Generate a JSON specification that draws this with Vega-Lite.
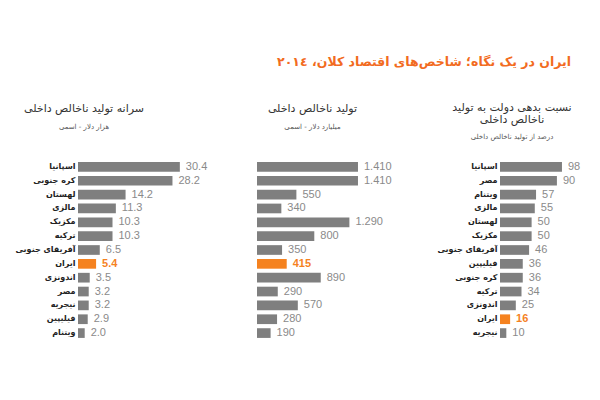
{
  "$schema": "https://vega.github.io/schema/vega-lite/v6.json",
  "background": "white",
  "padding": {"left": 5, "top": 56, "right": 5, "bottom": 5},
  "title": {
    "text": "ایران در یک نگاه؛ شاخص‌های اقتصاد کلان، ٢٠١٤",
    "anchor": "end",
    "color": "#f26b21",
    "fontSize": 12.5,
    "fontWeight": "bold",
    "font": "DejaVu Sans",
    "offset": 33,
    "dx": -15
  },
  "datasets": {
    "pc": [
      {"country": "اسپانیا", "value": 30.4},
      {"country": "کره جنوبی", "value": 28.2},
      {"country": "لهستان", "value": 14.2},
      {"country": "مالزی", "value": 11.3},
      {"country": "مکزیک", "value": 10.3},
      {"country": "ترکیه", "value": 10.3},
      {"country": "آفریقای جنوبی", "value": 6.5},
      {"country": "ایران", "value": 5.4},
      {"country": "اندونزی", "value": 3.5},
      {"country": "مصر", "value": 3.2},
      {"country": "نیجریه", "value": 3.2},
      {"country": "فیلیپین", "value": 2.9},
      {"country": "ویتنام", "value": 2.0}
    ],
    "gdp": [
      {"country": "اسپانیا", "value": 1410, "label": "1.410"},
      {"country": "کره جنوبی", "value": 1410, "label": "1.410"},
      {"country": "لهستان", "value": 550, "label": "550"},
      {"country": "مالزی", "value": 340, "label": "340"},
      {"country": "مکزیک", "value": 1290, "label": "1.290"},
      {"country": "ترکیه", "value": 800, "label": "800"},
      {"country": "آفریقای جنوبی", "value": 350, "label": "350"},
      {"country": "ایران", "value": 415, "label": "415"},
      {"country": "اندونزی", "value": 890, "label": "890"},
      {"country": "مصر", "value": 290, "label": "290"},
      {"country": "نیجریه", "value": 570, "label": "570"},
      {"country": "فیلیپین", "value": 280, "label": "280"},
      {"country": "ویتنام", "value": 190, "label": "190"}
    ],
    "debt": [
      {"country": "اسپانیا", "value": 98},
      {"country": "مصر", "value": 90},
      {"country": "ویتنام", "value": 57},
      {"country": "مالزی", "value": 55},
      {"country": "لهستان", "value": 50},
      {"country": "مکزیک", "value": 50},
      {"country": "آفریقای جنوبی", "value": 46},
      {"country": "فیلیپین", "value": 36},
      {"country": "کره جنوبی", "value": 36},
      {"country": "ترکیه", "value": 34},
      {"country": "اندونزی", "value": 25},
      {"country": "ایران", "value": 16},
      {"country": "نیجریه", "value": 10}
    ]
  },
  "spacing": 45,
  "hconcat": [
    {
      "data": {"name": "pc"},
      "width": 134,
      "height": 180,
      "title": {"text": "سرانه تولید ناخالص داخلی", "subtitle": "هزار دلار - اسمی", "anchor": "middle", "frame": "group", "dx": -61, "offset": 30, "subtitlePadding": 9},
      "encoding": {
        "y": {"field": "country", "type": "nominal", "sort": null, "scale": {"paddingInner": 0.3, "paddingOuter": 0.15}, "axis": {"minExtent": 73, "maxExtent": 73}},
        "x": {"field": "value", "type": "quantitative", "scale": {"domain": [0, 40]}, "axis": null}
      },
      "layer": [
        {"mark": {"type": "bar"}, "encoding": {"color": {"condition": {"test": "datum.country === 'ایران'", "value": "#f5821f"}, "value": "#7f7f7f"}}},
        {"transform": [{"filter": "datum.country !== 'ایران'"}], "mark": {"type": "text", "align": "left", "baseline": "middle", "dx": 6, "fontSize": 11, "font": "Liberation Sans", "color": "#8a8a8a"}, "encoding": {"text": {"field": "value", "type": "quantitative", "format": ".1f"}}},
        {"transform": [{"filter": "datum.country === 'ایران'"}], "mark": {"type": "text", "align": "left", "baseline": "middle", "dx": 6, "fontSize": 11, "fontWeight": "bold", "font": "Liberation Sans", "color": "#f5821f"}, "encoding": {"text": {"field": "value", "type": "quantitative", "format": ".1f"}}}
      ]
    },
    {
      "data": {"name": "gdp"},
      "width": 135,
      "height": 180,
      "title": {"text": "تولید ناخالص داخلی", "subtitle": "میلیارد دلار - اسمی", "anchor": "middle", "frame": "group", "dx": -12, "offset": 30, "subtitlePadding": 9},
      "encoding": {
        "y": {"field": "country", "type": "nominal", "sort": null, "scale": {"paddingInner": 0.3, "paddingOuter": 0.15}, "axis": null},
        "x": {"field": "value", "type": "quantitative", "scale": {"domain": [0, 1885]}, "axis": null}
      },
      "layer": [
        {"mark": {"type": "bar"}, "encoding": {"color": {"condition": {"test": "datum.country === 'ایران'", "value": "#f5821f"}, "value": "#7f7f7f"}}},
        {"transform": [{"filter": "datum.country !== 'ایران'"}], "mark": {"type": "text", "align": "left", "baseline": "middle", "dx": 6, "fontSize": 11, "font": "Liberation Sans", "color": "#8a8a8a"}, "encoding": {"text": {"field": "label", "type": "nominal"}}},
        {"transform": [{"filter": "datum.country === 'ایران'"}], "mark": {"type": "text", "align": "left", "baseline": "middle", "dx": 6, "fontSize": 11, "fontWeight": "bold", "font": "Liberation Sans", "color": "#f5821f"}, "encoding": {"text": {"field": "label", "type": "nominal"}}}
      ]
    },
    {
      "data": {"name": "debt"},
      "width": 86,
      "height": 180,
      "title": {"text": ["نسبت بدهی دولت به تولید", "ناخالص داخلی"], "subtitle": "درصد از تولید ناخالص داخلی", "anchor": "middle", "frame": "group", "dx": -31, "offset": 20, "subtitlePadding": 8, "lineHeight": 12.5},
      "encoding": {
        "y": {"field": "country", "type": "nominal", "sort": null, "scale": {"paddingInner": 0.3, "paddingOuter": 0.15}, "axis": {"minExtent": 63, "maxExtent": 63}},
        "x": {"field": "value", "type": "quantitative", "scale": {"domain": [0, 136]}, "axis": null}
      },
      "layer": [
        {"mark": {"type": "bar"}, "encoding": {"color": {"condition": {"test": "datum.country === 'ایران'", "value": "#f5821f"}, "value": "#7f7f7f"}}},
        {"transform": [{"filter": "datum.country !== 'ایران'"}], "mark": {"type": "text", "align": "left", "baseline": "middle", "dx": 6, "fontSize": 11, "font": "Liberation Sans", "color": "#8a8a8a"}, "encoding": {"text": {"field": "value", "type": "quantitative", "format": "d"}}},
        {"transform": [{"filter": "datum.country === 'ایران'"}], "mark": {"type": "text", "align": "left", "baseline": "middle", "dx": 6, "fontSize": 11, "fontWeight": "bold", "font": "Liberation Sans", "color": "#f5821f"}, "encoding": {"text": {"field": "value", "type": "quantitative", "format": "d"}}}
      ]
    }
  ],
  "config": {
    "view": {"stroke": null},
    "axisY": {"domain": false, "ticks": false, "labelPadding": 3, "labelFontSize": 8, "labelFont": "DejaVu Sans", "labelFontWeight": "bold", "labelColor": "#222222", "title": null},
    "title": {"font": "DejaVu Sans", "fontSize": 11, "fontWeight": "normal", "color": "#333333", "subtitleFont": "DejaVu Sans", "subtitleFontSize": 7, "subtitleColor": "#555555"}
  }
}
